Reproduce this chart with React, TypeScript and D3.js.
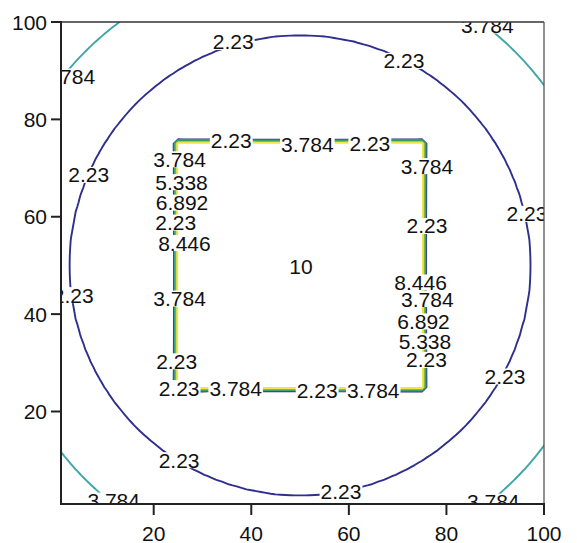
import React, { useMemo } from "react";
import * as d3 from "d3";

const W = 577;
const H = 543;

// contour levels and their colours
const levels = [2.23, 3.784, 5.338, 6.892, 8.446];
const levelColors = ["#2e2f8c", "#3fa6a8", "#3d9a4a", "#a3c93a", "#ece64a"];

// axis ticks
const xTicks = [20, 40, 60, 80, 100];
const yTicks = [20, 40, 60, 80, 100];

// field: plateau square and radial profile outside it
const gridMin = 1;
const gridMax = 100;
const plateauLo = 25;
const plateauHi = 75;
const plateauValue = 10;
const fieldCenter = [50, 50];
const profileRadius = [26, 47.3, 62.2];
const profileValue = [0.676, 2.23, 3.784];

// contour labels
const labelText = [
  "2.23", "2.23", "2.23", "2.23", "2.23", "2.23", "2.23", "2.23",
  "3.784", "3.784", "3.784", "3.784",
  "2.23", "3.784", "2.23",
  "3.784", "2.23", "8.446", "3.784", "6.892", "5.338", "2.23",
  "2.23", "3.784", "2.23", "3.784",
  "3.784", "5.338", "6.892", "2.23", "8.446", "3.784", "2.23",
  "10",
];
const labelX = [
  36.3, 71.3, 96.5, 92.0, 25.2, 58.4, 3.5, 6.7,
  2.6, 88.4, 11.8, 89.6,
  35.9, 51.5, 64.3,
  76.0, 76.0, 74.7, 76.1, 75.3, 75.6, 75.9,
  25.2, 36.8, 53.5, 65.0,
  25.3, 25.7, 25.8, 24.5, 26.3, 25.3, 24.7,
  50.2,
];
const labelY = [
  95.9, 92.0, 60.6, 27.2, 10.0, 3.5, 43.9, 68.6,
  88.8, 99.3, 1.7, 1.5,
  75.7, 74.9, 75.0,
  70.4, 58.1, 46.5, 43.1, 38.5, 34.4, 30.6,
  24.8, 24.8, 24.4, 24.4,
  71.8, 67.1, 62.9, 58.8, 54.6, 43.2, 30.3,
  49.8,
];

const FONT = "'Liberation Sans', Arial, sans-serif";
const FS = 21;

function textWidth(s: string) {
  let w = 0;
  for (const c of s) w += c === "." ? 0.278 : 0.556;
  return w * FS;
}

export default function App() {
  const left = 61, right = 544, top = 22, bottom = 504;
  const x = d3.scaleLinear().domain([gridMin, gridMax]).range([left, right]);
  const y = d3.scaleLinear().domain([gridMin, gridMax]).range([bottom, top]);

  const contours = useMemo(() => {
    const n = gridMax - gridMin + 1;
    const profile = d3.scaleLinear().domain(profileRadius).range(profileValue);
    const values: number[] = new Array(n * n);
    for (let j = 0; j < n; j++) {
      for (let i = 0; i < n; i++) {
        const gx = gridMin + i;
        const gy = gridMin + j;
        const inside = gx >= plateauLo && gx <= plateauHi && gy >= plateauLo && gy <= plateauHi;
        values[j * n + i] = inside
          ? plateauValue
          : profile(Math.hypot(gx - fieldCenter[0], gy - fieldCenter[1]));
      }
    }
    return d3.contours().size([n, n]).thresholds(levels)(values);
  }, []);

  const path = d3.geoPath(
    d3.geoTransform({
      point(px: number, py: number) {
        // contour coordinate c corresponds to grid value gridMin + c - 0.5
        this.stream.point(x(gridMin + px - 0.5), y(gridMin + py - 0.5));
      },
    })
  );

  const labels = labelText.map((t, k) => ({
    t,
    cx: x(labelX[k]),
    cy: y(labelY[k]),
    w: textWidth(t),
  }));

  return (
    <svg
      width={W}
      height={H}
      style={{ position: "absolute", left: 0, top: 0, background: "#fff" }}
      fontFamily={FONT}
    >
      <defs>
        <clipPath id="plotClip">
          <rect x={left} y={top} width={right - left} height={bottom - top} />
        </clipPath>
        <mask id="labelMask" maskUnits="userSpaceOnUse" x={0} y={0} width={W} height={H}>
          <rect x={0} y={0} width={W} height={H} fill="#fff" />
          {labels.map((l, k) => (
            <rect key={k} x={l.cx - l.w / 2 - 1} y={l.cy - 8} width={l.w + 2} height={16} fill="#000" />
          ))}
        </mask>
      </defs>
      <rect x={0} y={0} width={W} height={H} fill="#fff" />
      <g clipPath="url(#plotClip)">
        <g mask="url(#labelMask)">
          {contours.map((c, k) => (
            <path
              key={k}
              d={path(c as any) || ""}
              fill="none"
              stroke={levelColors[k]}
              strokeWidth={1.9}
              strokeLinejoin="round"
            />
          ))}
        </g>
        {labels.map((l, k) => (
          <text
            key={k}
            x={l.cx}
            y={l.cy}
            textAnchor="middle"
            dominantBaseline="central"
            fontSize={FS}
            fill="#111"
          >
            {l.t}
          </text>
        ))}
      </g>
      {/* frame */}
      <line x1={left} y1={top} x2={right} y2={top} stroke="#333" strokeWidth={1.6} />
      <line x1={right} y1={top} x2={right} y2={bottom} stroke="#555" strokeWidth={1.3} />
      <line x1={left} y1={top - 1} x2={left} y2={bottom + 1} stroke="#222" strokeWidth={2} />
      <line x1={left - 1} y1={bottom} x2={right + 1} y2={bottom} stroke="#222" strokeWidth={2} />
      {/* y axis */}
      {yTicks.map((v) => (
        <g key={"y" + v}>
          <line x1={left - 10} x2={left} y1={y(v)} y2={y(v)} stroke="#222" strokeWidth={2} />
          <text x={left - 14} y={y(v)} textAnchor="end" dominantBaseline="central" fontSize={FS} fill="#111">
            {v}
          </text>
        </g>
      ))}
      {/* x axis */}
      {xTicks.map((v) => (
        <g key={"x" + v}>
          <line x1={x(v)} x2={x(v)} y1={bottom} y2={bottom + 11} stroke="#222" strokeWidth={2} />
          <text x={x(v)} y={bottom + 29} textAnchor="middle" dominantBaseline="central" fontSize={FS} fill="#111">
            {v}
          </text>
        </g>
      ))}
    </svg>
  );
}
